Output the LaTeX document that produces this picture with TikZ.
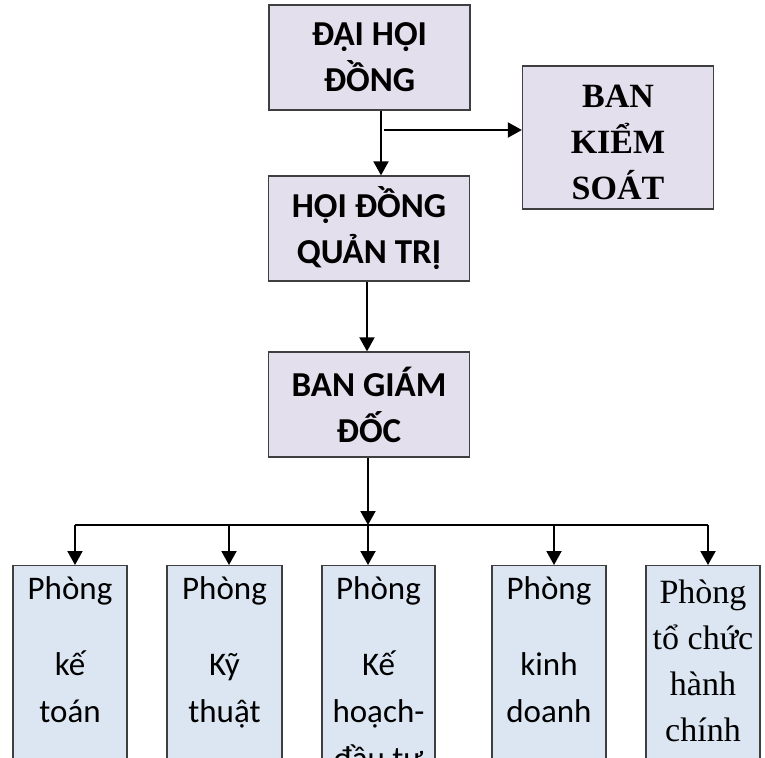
\documentclass[tikz,border=0pt]{standalone}
\usepackage{fontspec}
\setmainfont{Liberation Serif}
\newfontfamily\calfont{Carlito}
\usetikzlibrary{arrows.meta}
\definecolor{lav}{HTML}{E4DFEC}
\definecolor{lblue}{HTML}{DCE6F2}
\definecolor{bord}{HTML}{3F3F3F}
\begin{document}
\begin{tikzpicture}[x=1pt,y=-1pt,
  topbox/.style={draw=bord, line width=1.3pt, fill=lav, minimum width=201pt,
    minimum height=105pt, inner sep=0pt, align=center,
    font=\calfont\bfseries\fontsize{35}{46}\selectfont},
  botbox/.style={draw=bord, line width=1.3pt, fill=lblue, inner sep=0pt, anchor=north},
  arr/.style={line width=2pt, -{Triangle[length=14pt,width=15pt]}},
  busline/.style={line width=1.5pt}]
\useasboundingbox (0,0) rectangle (765,757);
\clip (0,0) rectangle (765,757);
\fill[white] (0,0) rectangle (765,757);

\node[topbox] (dhd) at (369.5,57.5) {ĐẠI HỘI\\ĐỒNG};
\node[topbox, font=\bfseries\fontsize{34}{46}\selectfont, minimum width=191pt,
  minimum height=143pt] (bks) at (618,137.5) {\rule{0pt}{33pt}BAN\\KIỂM\\SOÁT};
\node[topbox] (hdqt) at (369,228.5) {HỘI ĐỒNG\\QUẢN TRỊ};
\node[topbox] (bgd) at (369,404.5) {BAN GIÁM\\ĐỐC};

\newcommand{\calbox}[3]{\parbox[c][240pt][t]{#1}{\centering\calfont\fontsize{33}{47}\selectfont
  \rule{0pt}{34pt}Phòng\\[29pt]#2\\#3}}

\node[botbox] (p1) at (70,565) {\calbox{114pt}{kế}{toán}};
\node[botbox] (p2) at (224.5,565) {\calbox{115pt}{Kỹ}{thuật}};
\node[botbox] (p3) at (378.5,565) {\calbox{113pt}{Kế}{hoạch-\\đầu tư}};
\node[botbox] (p4) at (549,565) {\calbox{114pt}{kinh}{doanh}};
\node[botbox] (p5) at (703,565) {\parbox[c][240pt][t]{114pt}{\centering\fontsize{34}{46}\selectfont
  \rule{0pt}{38pt}Phòng\\tổ chức\\hành\\chính}};

\coordinate (x1) at (381,0);
\coordinate (x2) at (367,0);
\coordinate (x3) at (368,0);
\coordinate (bs) at (384,130);
\draw[arr] (dhd.south -| x1) -- (hdqt.north -| x1);
\draw[arr] (bs) -- (bs -| bks.west);
\draw[arr] (hdqt.south -| x2) -- (bgd.north -| x2);
\coordinate (bus) at (368,525);
\draw[arr] (bgd.south -| x3) -- (bus);

\coordinate (a1) at (75,525);
\coordinate (a2) at (229,525);
\coordinate (a3) at (368,525);
\coordinate (a4) at (554,525);
\coordinate (a5) at (708,525);
\draw[busline] (a1) -- (a5);
\draw[arr] (a1) -- (a1 |- p1.north);
\draw[arr] (a2) -- (a2 |- p2.north);
\draw[arr] (a3) -- (a3 |- p3.north);
\draw[arr] (a4) -- (a4 |- p4.north);
\draw[arr] (a5) -- (a5 |- p5.north);
\end{tikzpicture}
\end{document}
